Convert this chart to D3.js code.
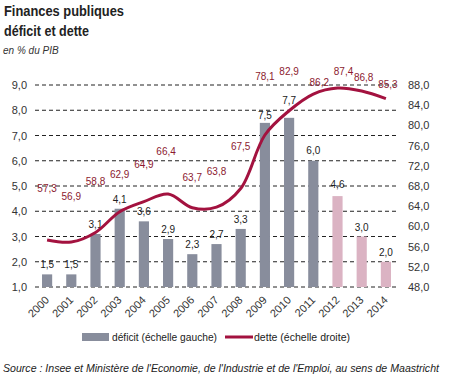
<!DOCTYPE html>
<html>
<head>
<meta charset="utf-8">
<script src="https://cdn.jsdelivr.net/npm/d3@7"></script>
<style>
  body { margin: 0; background: #fff; }
  svg { font-family: "Liberation Sans", Arial, sans-serif; }
</style>
</head>
<body>
<div id="chart"></div>
<script>
// data
var years = ["2000","2001","2002","2003","2004","2005","2006","2007","2008","2009","2010","2011","2012","2013","2014"];
var deficit = [1.5, 1.5, 3.1, 4.1, 3.6, 2.9, 2.3, 2.7, 3.3, 7.5, 7.7, 6.0, 4.6, 3.0, 2.0];
var debt = [57.3, 56.9, 58.8, 62.9, 64.9, 66.4, 63.7, 63.8, 67.5, 78.1, 82.9, 86.2, 87.4, 86.8, 85.3];
var forecastFrom = "2012";
var leftTicks = [1, 2, 3, 4, 5, 6, 7, 8, 9];
var rightTicks = [48, 52, 56, 60, 64, 68, 72, 76, 80, 84, 88];

// label nudges (the original places debt labels by hand)
var debtLabelDy = [-52, -46, -51, -38, -38, -43, -31, -36, -43, -59, -40, -12, -17, -14, -15];
var debtLabelDx = [0, 0, 0, 0, 0, -2, 0, 0, 0, 0, 0, 6, 6, 2, 2];
var deficitLabelDy = [-6, -6, -6, -6, -6, -6, -6, -6, -6, -4, -14, -7, -8, -6, -6];

var width = 460, height = 377;
var fmt = function(v) { return d3.format(".1f")(v).replace(".", ","); };

var svg = d3.select("#chart").append("svg")
  .attr("width", width)
  .attr("height", height);

// titles
svg.append("text").attr("x", 4).attr("y", 16)
  .attr("font-size", "14px").attr("font-weight", "bold").attr("fill", "#222")
  .attr("textLength", 120).attr("lengthAdjust", "spacingAndGlyphs")
  .text("Finances publiques");
svg.append("text").attr("x", 4).attr("y", 36)
  .attr("font-size", "14px").attr("font-weight", "bold").attr("fill", "#222")
  .attr("textLength", 85).attr("lengthAdjust", "spacingAndGlyphs")
  .text("déficit et dette");
svg.append("text").attr("x", 3).attr("y", 54)
  .attr("font-size", "10px").attr("font-style", "italic").attr("fill", "#333")
  .text("en % du PIB");

// scales
var x = d3.scaleBand()
  .domain(years)
  .range([35, 398])
  .paddingInner(0.58)
  .paddingOuter(0.29);

var yL = d3.scaleLinear().domain([1, 9]).range([287, 85]);
var yR = d3.scaleLinear().domain([48, 88]).range([287, 85]);

// gridlines
svg.append("g").selectAll("line")
  .data(leftTicks)
  .enter().append("line")
  .attr("x1", 35).attr("x2", 398)
  .attr("y1", function(d) { return yL(d); })
  .attr("y2", function(d) { return yL(d); })
  .attr("stroke", "#222")
  .attr("stroke-width", 1)
  .attr("stroke-dasharray", "4,3");

// axes
var leftAxis = d3.axisLeft(yL).tickValues(leftTicks).tickSize(0).tickPadding(0).tickFormat(fmt);
var gL = svg.append("g").attr("transform", "translate(27,0)").call(leftAxis);
gL.select(".domain").remove();
gL.selectAll("text").attr("font-size", "11px").attr("fill", "#333").attr("font-family", "Liberation Sans, Arial, sans-serif");

var rightAxis = d3.axisRight(yR).tickValues(rightTicks).tickSize(0).tickPadding(0).tickFormat(fmt);
var gR = svg.append("g").attr("transform", "translate(408,0)").call(rightAxis);
gR.select(".domain").remove();
gR.selectAll("text").attr("font-size", "11px").attr("fill", "#333").attr("font-family", "Liberation Sans, Arial, sans-serif");

var bottomAxis = d3.axisBottom(x).tickSize(0).tickPadding(0);
var gB = svg.append("g").attr("transform", "translate(0,298)").call(bottomAxis);
gB.select(".domain").remove();
gB.selectAll("text")
  .attr("font-size", "11px").attr("fill", "#333").attr("font-family", "Liberation Sans, Arial, sans-serif")
  .attr("text-anchor", "end")
  .attr("y", 0)
  .attr("dy", "0.35em").attr("dx", "0")
  .attr("transform", "rotate(-45)");

// bars
svg.append("g").selectAll("rect")
  .data(years)
  .enter().append("rect")
  .attr("x", function(d) { return x(d); })
  .attr("width", x.bandwidth())
  .attr("y", function(d, i) { return yL(deficit[i]); })
  .attr("height", function(d, i) { return yL(1) - yL(deficit[i]); })
  .attr("fill", function(d) { return d >= forecastFrom ? "#dbb3c3" : "#888d9c"; });

svg.append("g").selectAll("text")
  .data(years)
  .enter().append("text")
  .attr("x", function(d) { return x(d) + x.bandwidth() / 2; })
  .attr("y", function(d, i) { return yL(deficit[i]) + deficitLabelDy[i]; })
  .attr("text-anchor", "middle")
  .attr("font-size", "10px")
  .attr("fill", "#222")
  .text(function(d, i) { return fmt(deficit[i]); });

// debt line
var line = d3.line()
  .x(function(d, i) { return x(years[i]) + x.bandwidth() / 2; })
  .y(function(d) { return yR(d); })
  .curve(d3.curveCatmullRom.alpha(0.5));

svg.append("path")
  .datum(debt)
  .attr("d", line)
  .attr("fill", "none")
  .attr("stroke", "#a3123f")
  .attr("stroke-width", 3)
  .attr("stroke-linejoin", "round");

svg.append("g").selectAll("text")
  .data(debt)
  .enter().append("text")
  .attr("x", function(d, i) { return x(years[i]) + x.bandwidth() / 2 + debtLabelDx[i]; })
  .attr("y", function(d, i) { return yR(d) + debtLabelDy[i] + 4; })
  .attr("text-anchor", "middle")
  .attr("font-size", "10px")
  .attr("fill", "#8c1a30")
  .text(function(d) { return fmt(d); });

// legend
var lg = svg.append("g");
lg.append("rect").attr("x", 82).attr("y", 333).attr("width", 27).attr("height", 8).attr("fill", "#888d9c");
lg.append("text").attr("x", 112).attr("y", 341).attr("font-size", "11px").attr("fill", "#222")
  .attr("textLength", 105).attr("lengthAdjust", "spacingAndGlyphs")
  .text("déficit (échelle gauche)");
lg.append("line").attr("x1", 225).attr("x2", 253).attr("y1", 337).attr("y2", 337)
  .attr("stroke", "#a3123f").attr("stroke-width", 3);
lg.append("text").attr("x", 254).attr("y", 341).attr("font-size", "11px").attr("fill", "#222")
  .attr("textLength", 96).attr("lengthAdjust", "spacingAndGlyphs")
  .text("dette (échelle droite)");

// source
svg.append("text").attr("x", 3).attr("y", 372)
  .attr("font-size", "11px").attr("font-style", "italic").attr("fill", "#222")
  .attr("textLength", 436).attr("lengthAdjust", "spacingAndGlyphs")
  .text("Source : Insee et Ministère de l'Economie, de l'Industrie et de l'Emploi, au sens de Maastricht");
</script>
</body>
</html>
